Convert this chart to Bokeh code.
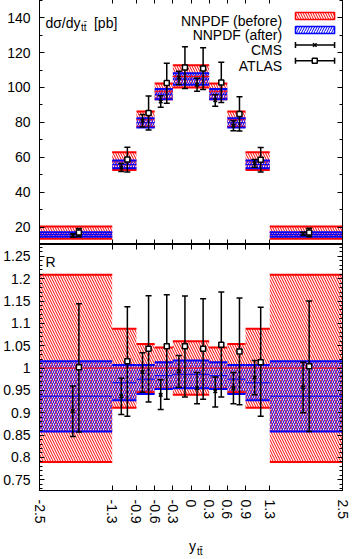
from bokeh.plotting import figure
from bokeh.layouts import column
from bokeh.models import (ColumnDataSource, Range1d, FixedTicker, LinearAxis,
                          CustomJSTickFormatter, Label, Div)
from bokeh.embed import file_html
from bokeh.resources import INLINE

FONT = "Liberation Sans"

# ---------------- data ----------------
edges = [-2.5, -1.3, -0.9, -0.6, -0.3, 0.0, 0.3, 0.6, 0.9, 1.3, 2.5]
nominal_pb = [16.8, 57.8, 81.8, 97.8, 106.3, 106.3, 97.8, 81.8, 57.8, 16.8]
# NNPDF (before): band as ratio to its own central value
before_lo = [0.790, 0.911, 0.946, 0.954, 0.940, 0.940, 0.954, 0.946, 0.911, 0.790]
before_hi = [1.209, 1.088, 1.054, 1.046, 1.060, 1.060, 1.046, 1.054, 1.088, 1.209]
# NNPDF (after): ratio to NNPDF (before) central value
after_lo = [0.858, 0.928, 0.942, 0.953, 0.955, 0.955, 0.953, 0.942, 0.928, 0.858]
after_mid = [0.937, 0.967, 0.975, 0.983, 0.986, 0.986, 0.983, 0.975, 0.967, 0.937]
after_hi = [1.015, 1.007, 1.007, 1.013, 1.017, 1.017, 1.013, 1.007, 1.007, 1.015]
# CMS data: ratio, lower and upper error bar ends
cms_r = [0.904, 0.937, 0.991, 0.940, 0.993, 0.955, 0.948, 0.955, 0.979, 0.957]
cms_lo = [0.847, 0.896, 0.946, 0.907, 0.957, 0.920, 0.913, 0.920, 0.940, 0.900]
cms_hi = [0.960, 0.977, 1.034, 0.974, 1.028, 0.990, 0.980, 0.990, 1.017, 1.013]
# ATLAS data
atlas_r = [1.002, 1.015, 1.043, 1.049, 1.049, 1.043, 1.052, 1.037, 1.013, 1.004]
atlas_lo = [0.857, 0.892, 0.924, 0.930, 0.935, 0.930, 0.935, 0.918, 0.892, 0.858]
atlas_hi = [1.144, 1.137, 1.162, 1.164, 1.161, 1.155, 1.170, 1.157, 1.136, 1.150]

x_ticks = edges
top_y_ticks = [20, 40, 60, 80, 100, 120, 140]
top_y_minor = [10, 30, 50, 70, 90, 110, 130, 150]
ratio_y_ticks = [0.75, 0.8, 0.85, 0.9, 0.95, 1.0, 1.05, 1.1, 1.15, 1.2, 1.25]
ratio_y_minor = [round(0.73 + 0.01 * i, 2) for i in range(55)]

# ---------------- styling constants ----------------
X0, X1 = -2.5, 2.5
TOP_Y = (10.0, 151.0)
BOT_Y = (0.726, 1.2765)
PT_OFFSET = 0.05
RED = "#ff0000"
BLUE = "#0000ff"
HATCH_SCALE = 5
W = 350
FRAME_L = 36
FRAME_W = 306
FRAME_H = 246
BOT_BORDER = 38

centers = [(a + b) / 2 for a, b in zip(edges[:-1], edges[1:])]
lefts = edges[:-1]
rights = edges[1:]


def mul(a, b):
    return [x * y for x, y in zip(a, b)]


def setup_axis(ax, ticks, minor, labels, vertical=False):
    ax.ticker = FixedTicker(ticks=ticks, minor_ticks=minor)
    ax.axis_line_color = "black"
    ax.axis_line_width = 1
    ax.major_tick_in = 5
    ax.major_tick_out = 0
    ax.minor_tick_in = 3
    ax.minor_tick_out = 0
    ax.major_tick_line_color = "black"
    ax.minor_tick_line_color = "black" if minor else None
    if labels:
        ax.formatter = CustomJSTickFormatter(
            code="return String(Math.round(tick*1000)/1000);")
        ax.major_label_text_font = FONT
        ax.major_label_text_font_size = "14px"
        ax.major_label_text_color = "black"
        ax.major_label_standoff = 9
        if vertical:
            ax.major_label_orientation = "vertical"
    else:
        ax.formatter = CustomJSTickFormatter(code="return '';")
        ax.major_label_text_font_size = "1px"
        ax.major_label_standoff = 0


def make_fig(height, yr, border_top, border_bottom):
    p = figure(width=W, height=height, output_backend="svg", toolbar_location=None,
               x_range=Range1d(X0, X1), y_range=Range1d(*yr),
               min_border_left=FRAME_L, min_border_right=W - FRAME_L - FRAME_W,
               min_border_top=border_top, min_border_bottom=border_bottom)
    p.grid.visible = False
    p.outline_line_color = "black"
    p.outline_line_width = 1
    p.background_fill_color = "white"
    p.border_fill_color = "white"
    return p


def draw_panel(p, scale):
    # NNPDF (before)
    b_lo = mul(before_lo, scale)
    b_hi = mul(before_hi, scale)
    b_mid = scale
    p.quad(left=lefts, right=rights, bottom=b_lo, top=b_hi, fill_color=None,
           line_color=None, hatch_pattern="\\", hatch_color=RED, hatch_alpha=1.0,
           hatch_scale=HATCH_SCALE, hatch_weight=1)
    # NNPDF (after)
    a_lo = mul(after_lo, scale)
    a_hi = mul(after_hi, scale)
    a_mid = mul(after_mid, scale)
    p.quad(left=lefts, right=rights, bottom=a_lo, top=a_hi, fill_color=None,
           line_color=None, hatch_pattern="/", hatch_color=BLUE, hatch_alpha=1.0,
           hatch_scale=HATCH_SCALE, hatch_weight=1)
    # band edges
    p.segment(x0=lefts, x1=rights, y0=b_mid, y1=b_mid, line_color=RED, line_width=1)
    p.segment(x0=lefts, x1=rights, y0=b_lo, y1=b_lo, line_color=RED, line_width=2)
    p.segment(x0=lefts, x1=rights, y0=b_hi, y1=b_hi, line_color=RED, line_width=2)
    p.segment(x0=lefts, x1=rights, y0=a_mid, y1=a_mid, line_color=BLUE, line_width=1)
    p.segment(x0=lefts, x1=rights, y0=a_lo, y1=a_lo, line_color=BLUE, line_width=2)
    p.segment(x0=lefts, x1=rights, y0=a_hi, y1=a_hi, line_color=BLUE, line_width=2)

    # data points
    for vals, lo, hi, off, marker, size, fill in (
            (cms_r, cms_lo, cms_hi, -PT_OFFSET, "x", 5, None),
            (atlas_r, atlas_lo, atlas_hi, PT_OFFSET, "square", 5, "white")):
        xs = [c + off for c in centers]
        src = ColumnDataSource(dict(x=xs, y=mul(vals, scale), lo=mul(lo, scale),
                                    hi=mul(hi, scale)))
        p.segment(x0="x", x1="x", y0="lo", y1="hi", source=src, line_color="black",
                  line_width=1.5)
        p.scatter(x="x", y="lo", source=src, marker="dash", size=6,
                  line_color="black", line_width=1.5)
        p.scatter(x="x", y="hi", source=src, marker="dash", size=6,
                  line_color="black", line_width=1.5)
        p.scatter(x="x", y="y", source=src, marker=marker, size=size,
                  line_color="black", fill_color=fill, line_width=1.5)


# page-pixel helpers for text / legend placement (frame geometry)
def top_xy(px, py):
    x = X0 + (px - 44) * (X1 - X0) / FRAME_W
    y = TOP_Y[1] - (py - 6) * (TOP_Y[1] - TOP_Y[0]) / FRAME_H
    return x, y


def bot_xy(px, py):
    x = X0 + (px - 44) * (X1 - X0) / FRAME_W
    y = BOT_Y[1] - (py - 252) * (BOT_Y[1] - BOT_Y[0]) / FRAME_H
    return x, y


def add_text(p, xy, text, size="14px", align="left", baseline="alphabetic"):
    x, y = xy
    p.add_layout(Label(x=x, y=y, text=text, text_font=FONT, text_font_size=size,
                       text_align=align, text_baseline=baseline, text_color="black"))


# ---------------- top panel ----------------
top = make_fig(2 + FRAME_H, TOP_Y, 2, 0)
setup_axis(top.yaxis[0], top_y_ticks, top_y_minor, True)
setup_axis(top.xaxis[0], x_ticks, [], False)
ax = LinearAxis()
setup_axis(ax, x_ticks, [], False)
top.add_layout(ax, "above")
ax = LinearAxis()
setup_axis(ax, top_y_ticks, top_y_minor, False)
top.add_layout(ax, "right")

draw_panel(top, nominal_pb)

add_text(top, top_xy(50, 30.7), "dσ/dy")
add_text(top, top_xy(86, 34.5), "tt\u0304", size="10px")
add_text(top, top_xy(99, 30.7), "[pb]")

# legend (gnuplot style: text right-aligned, sample on the right)
leg_rows = [28.3, 42.3, 57.5, 73.3]
leg_text = ["NNPDF (before)", "NNPDF (after)", "CMS", "ATLAS"]
for row, txt in zip(leg_rows, leg_text):
    add_text(top, top_xy(289, row), txt, align="right")

sx0, _ = top_xy(302.5, 0)
sx1, _ = top_xy(342, 0)
sxm, _ = top_xy(322, 0)
for (py0, py1), color, pat in (((20.0, 27.0), RED, "\\"), ((34.0, 41.0), BLUE, "/")):
    _, yb = top_xy(0, py1)
    _, yt = top_xy(0, py0)
    top.quad(left=[sx0], right=[sx1], bottom=[yb], top=[yt], fill_color=None,
             line_color=color, line_width=1.5, hatch_pattern=pat, hatch_color=color,
             hatch_alpha=1.0, hatch_scale=HATCH_SCALE, hatch_weight=1)
for py, marker, size, fill in ((52.5, "x", 5, None), (68.3, "square", 5, "white")):
    _, yy = top_xy(0, py)
    top.segment(x0=[sx0], x1=[sx1], y0=[yy], y1=[yy], line_color="black", line_width=1.5)
    top.scatter(x=[sx0, sx1], y=[yy, yy], marker="dash", angle=1.5708, size=6,
                line_color="black", line_width=1.5)
    top.scatter(x=[sxm], y=[yy], marker=marker, size=size, line_color="black",
                fill_color=fill, line_width=1.5)

# ---------------- ratio panel ----------------
ones = [1.0] * len(centers)
bot = make_fig(FRAME_H + BOT_BORDER, BOT_Y, 0, BOT_BORDER)
setup_axis(bot.yaxis[0], ratio_y_ticks, ratio_y_minor, True)
setup_axis(bot.xaxis[0], x_ticks, [], True, vertical=True)
ax = LinearAxis()
setup_axis(ax, x_ticks, [], False)
bot.add_layout(ax, "above")
ax = LinearAxis()
setup_axis(ax, ratio_y_ticks, ratio_y_minor, False)
bot.add_layout(ax, "right")

draw_panel(bot, ones)

add_text(bot, bot_xy(50, 269), "R")

# x-axis title with subscript (HTML text below the ratio panel)
xlabel = Div(
    text=('y<span style="font-size:10px; position:relative; top:4px; '
          'margin-left:1px;">tt\u0304</span>'),
    width=W, height=20,
    styles={"font-family": FONT, "font-size": "14px", "color": "black",
            "padding-left": "184px", "padding-top": "5px", "line-height": "16px"})

layout = column(top, bot, xlabel, styles={"margin-top": "-4px"})

with open("out.html", "w") as f:
    f.write(file_html(layout, INLINE))
